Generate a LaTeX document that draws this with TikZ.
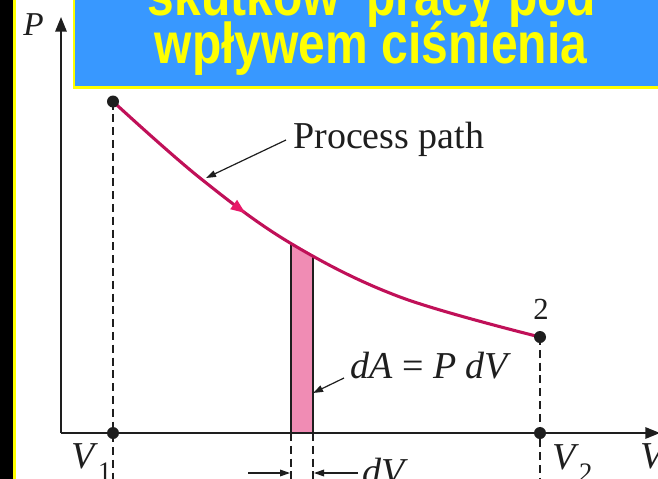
\documentclass[tikz,border=0pt]{standalone}
\usepackage{fontspec}
\setmainfont{Liberation Serif}
\newfontfamily\titlefont{Liberation Sans}
\usetikzlibrary{arrows.meta,decorations.markings}
\definecolor{titleblue}{RGB}{56,152,255}
\definecolor{titleyellow}{RGB}{255,255,0}
\definecolor{curvecol}{RGB}{192,16,88}
\definecolor{arrowpink}{RGB}{232,24,104}
\definecolor{stripfill}{RGB}{240,140,180}
\definecolor{ink}{RGB}{30,30,30}
\begin{document}
\begin{tikzpicture}[x=0.75pt,y=-0.75pt,
  axisline/.style={draw=ink,line width=1.5pt},
  guide/.style={draw=ink,line width=1.1pt,dash pattern=on 6pt off 3.6pt},
  dotnode/.style={circle,fill=ink,inner sep=0pt,minimum size=9pt},
  pointer/.style={draw=ink,line width=0.9pt,-{Triangle[length=7.5pt,width=5pt]}},
  lbl/.style={inner sep=0pt,text=ink,font=\fontsize{28.5}{29}\selectfont},
  titletext/.style={inner sep=0pt,text=titleyellow,font=\titlefont\bfseries\fontsize{36}{36}\selectfont},
  procpath/.style={draw=curvecol,line width=2.3pt,line cap=round,
    postaction={decorate},
    decoration={markings,mark=at position 0.35 with {\arrow[arrowpink]{Triangle[length=11pt,width=8pt]}}}}
]
\useasboundingbox (0,0) rectangle (658,479);
\clip (0,0) rectangle (658,479);
% background and side band
\fill[white] (0,0) rectangle (658,479);
\fill[black] (0,0) rectangle (13,479);
\fill[titleyellow] (12.7,0) rectangle (15.5,479);
% title box
\fill[titleblue] (74,-5) rectangle (665,87);
\draw[titleyellow,line width=2pt] (74,-5) -- (74,87.5) -- (665,87.5);
\begin{scope}
  \clip (75,0) rectangle (665,86.5);
  \node[titletext,anchor=base] (title1) at (372,15) {\scalebox{1}[1.2]{skutków\ \ pracy pod}};
  \node[titletext,anchor=base] (title2) at (371,63) {\scalebox{1}[1.2]{wpływem ciśnienia}};
\end{scope}
% coordinates
\coordinate (O) at (61,433);
\coordinate (Ptip) at (61,17);
\coordinate (Vtip) at (660,433);
\coordinate (p1) at (113,101.5);
\coordinate (p2) at (540,337);
\coordinate (v1) at (113,433);
\coordinate (v2) at (540,433);
\coordinate (b1) at (113,482);
\coordinate (b2) at (540,482);
\coordinate (sa) at (291,180);
\coordinate (sb) at (313,180);
\coordinate (sa0) at (291,433);
\coordinate (sb0) at (313,433);
\coordinate (sab) at (291,482);
\coordinate (sbb) at (313,482);
% shaded strip under the curve
\begin{scope}
  \clip plot[smooth,tension=0.6] coordinates {(113,101.5) (200,178) (291,243.5) (400,297) (540,337)} -- (540,433) -- (113,433) -- cycle;
  \fill[stripfill] (291,150) rectangle (313,433);
  \draw[draw=ink,line width=1.4pt] (sa0) -- (sa);
  \draw[draw=ink,line width=1.4pt] (sb0) -- (sb);
\end{scope}
% guides
\draw[guide] (p1) -- (b1);
\draw[guide] (p2) -- (b2);
\draw[guide] (sa0) -- (sab);
\draw[guide] (sb0) -- (sbb);
% axes
\draw[axisline,-{Triangle[length=11pt,width=8.5pt]}] (O) -- (Ptip);
\draw[axisline,-{Triangle[length=11pt,width=8.5pt]}] (O) -- (Vtip);
% process curve
\path[procpath] plot[smooth,tension=0.6] coordinates {(113,101.5) (200,178) (291,243.5) (400,297) (540,337)};
% dots
\node[dotnode] (d1) at (p1) {};
\node[dotnode] (d2) at (p2) {};
\node[dotnode] (dv1) at (v1) {};
\node[dotnode] (dv2) at (v2) {};
% labels
\node[lbl,anchor=base west,font=\itshape\fontsize{25}{26}\selectfont] (Plabel) at (23,35) {P};
\node[lbl,anchor=base west] (proc) at (293,148) {Process path};
\node[lbl,anchor=base west] (dA) at (350,378) {\textit{dA} = \textit{P dV}};
\node[lbl,anchor=base,font=\fontsize{23}{24}\selectfont] (two) at (541,319) {2};
\node[lbl,anchor=base west] (V1) at (71,468) {\textit{V}\raisebox{-0.32em}{\fontsize{20}{20}\selectfont 1}};
\node[lbl,anchor=base west] (V2) at (552,469) {\textit{V}\raisebox{-0.32em}{\fontsize{20}{20}\selectfont 2}};
\node[lbl,anchor=base west] (Vax) at (640,468) {\textit{V}};
\node[lbl,anchor=base west] (dVl) at (362,484) {\textit{dV}};
% pointers
\coordinate (procfrom) at (286,140);
\coordinate (proctip) at (206,178);
\draw[pointer] (procfrom) -- (proctip);
\coordinate (dAfrom) at (344,378);
\coordinate (dAtip) at (313,393);
\draw[pointer] (dAfrom) -- (dAtip);
\coordinate (dvla) at (248,473);
\coordinate (dvlt) at (290,473);
\coordinate (dvra) at (358,473);
\coordinate (dvrt) at (314,473);
\draw[pointer] (dvla) -- (dvlt);
\draw[pointer] (dvra) -- (dvrt);
\end{tikzpicture}
\end{document}
